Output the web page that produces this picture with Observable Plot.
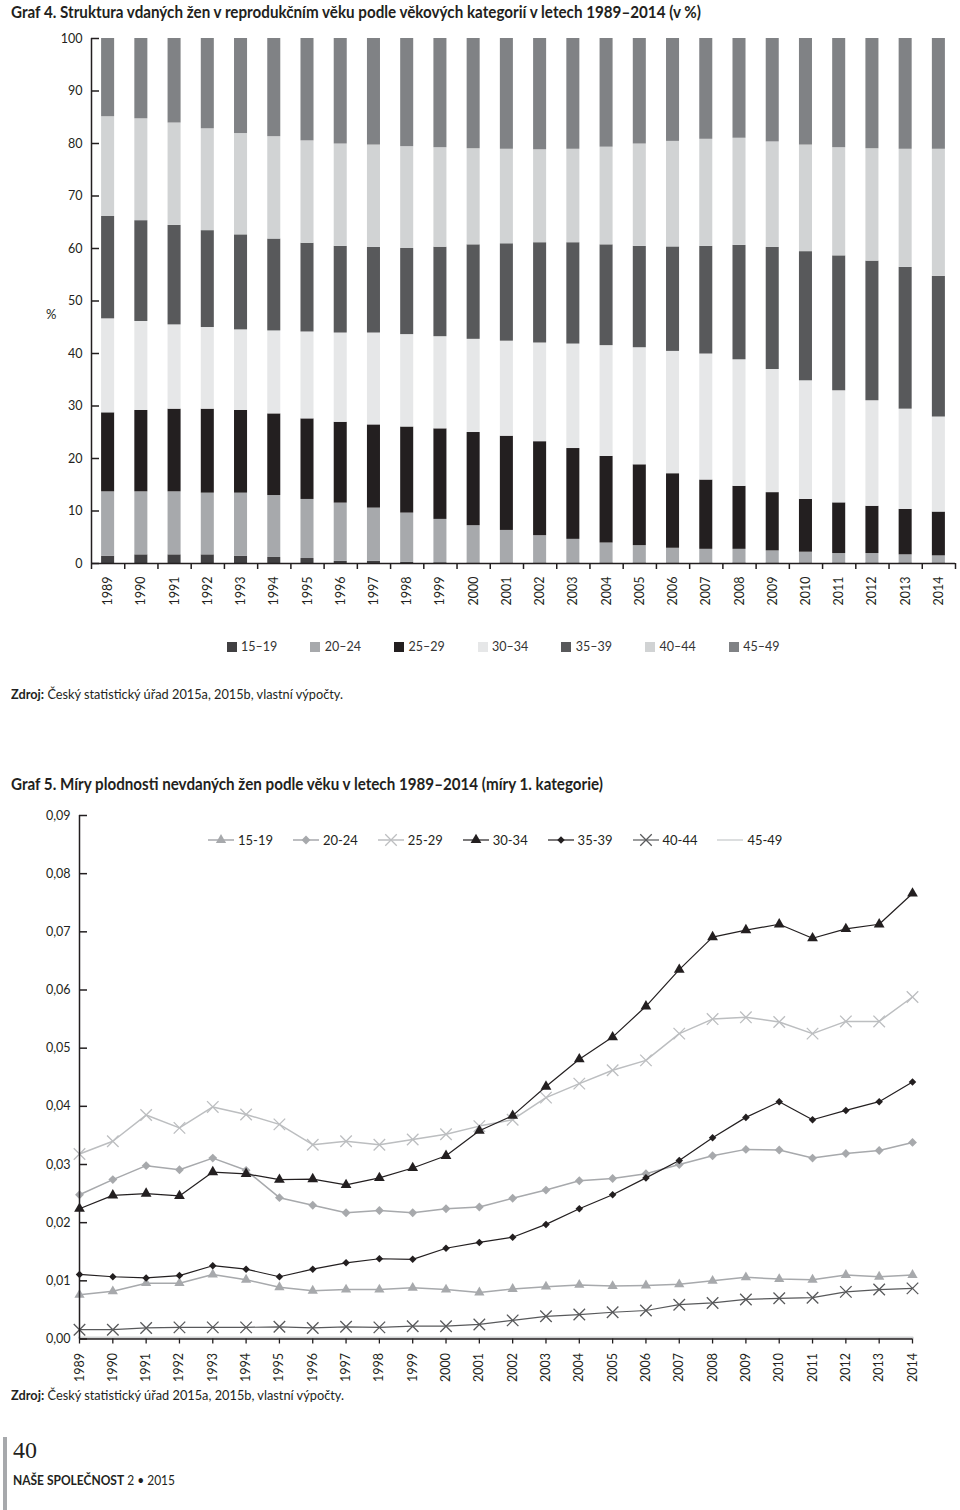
<!DOCTYPE html>
<html>
<head>
<meta charset="utf-8">
<script src="https://cdn.jsdelivr.net/npm/d3@7"></script>
<script src="https://cdn.jsdelivr.net/npm/@observablehq/plot@0.6"></script>
<style>
  html, body { margin: 0; padding: 0; background: #fff; }
  #page { position: relative; width: 960px; height: 1510px; overflow: hidden; font-family: Lato, "Open Sans", sans-serif; color: #231f20; }
  .abs { position: absolute; white-space: nowrap; }
  .fit { display: inline-block; transform-origin: left center; }
  .title { font-size: 17px; font-weight: 700; line-height: 20px; }
  .src { font-size: 13px; line-height: 16px; }
  .lg1 { font-size: 12.5px; line-height: 14px; color: #333; display: flex; align-items: center; }
  .lg1 span.sw { display: inline-block; width: 10px; height: 10.5px; margin-right: 4.5px; }
  .lg2 { font-size: 13px; line-height: 16px; display: flex; align-items: center; }
  .lg2 svg { margin-right: 4px; overflow: visible; }
</style>
</head>
<body>
<div id="page">
  <div id="chart1" class="abs" style="left:0;top:0"></div>
  <div id="chart2" class="abs" style="left:0;top:800px"></div>

  <div class="abs title" style="left:11px;top:2px"><span class="fit" data-w="690">Graf 4. Struktura vdaných žen v reprodukčním věku podle věkových kategorií v letech 1989–2014 (v %)</span></div>
  <div class="abs" style="left:46px;top:305px;font-size:13px;line-height:18px">%</div>
  <div id="legend1"></div>
  <div class="abs src" style="left:11px;top:686px"><span class="fit" data-w="332"><b>Zdroj:</b> Český statistický úřad 2015a, 2015b, vlastní výpočty.</span></div>

  <div class="abs title" style="left:11px;top:774px"><span class="fit" data-w="592">Graf 5. Míry plodnosti nevdaných žen podle věku v letech 1989–2014 (míry 1. kategorie)</span></div>
  <div id="legend2"></div>
  <div class="abs src" style="left:11px;top:1387px"><span class="fit" data-w="333"><b>Zdroj:</b> Český statistický úřad 2015a, 2015b, vlastní výpočty.</span></div>

  <div class="abs" style="left:3px;top:1437px;width:4px;height:73px;background:#a7a9ac"></div>
  <div class="abs" style="left:13px;top:1436px;font-family:'Liberation Serif','DejaVu Serif',serif;font-size:24px;line-height:28px">40</div>
  <div class="abs" style="left:13px;top:1472px;font-size:13px;line-height:16px"><span class="fit" data-w="162"><b>NAŠE SPOLEČNOST</b> 2 • 2015</span></div>
</div>

<script>
// ---------- Graf 4 data ----------
const years = [1989,1990,1991,1992,1993,1994,1995,1996,1997,1998,1999,2000,2001,2002,2003,2004,2005,2006,2007,2008,2009,2010,2011,2012,2013,2014];
const ageGroups1 = ["15–19","20–24","25–29","30–34","35–39","40–44","45–49"];
const share15_19 = [1.4,1.65,1.65,1.65,1.4,1.15,0.95,0.4,0.4,0.2,0.15,0.1,0.1,0.1,0.1,0.1,0.1,0.1,0.1,0.1,0.1,0.1,0.1,0.1,0.1,0.1];
const share20_24 = [12.25,12.0,12.0,11.75,12.0,11.8,11.25,11.1,10.15,9.4,8.25,7.1,6.2,5.2,4.5,3.8,3.3,2.8,2.6,2.6,2.3,2.05,1.8,1.8,1.55,1.35];
const share25_29 = [15.05,15.5,15.75,16.0,15.75,15.55,15.35,15.4,15.85,16.4,17.25,17.75,17.95,17.9,17.3,16.5,15.4,14.2,13.2,12.0,11.1,10.05,9.65,9.0,8.65,8.35];
const share30_34 = [17.9,16.95,16.05,15.55,15.35,15.8,16.55,17.0,17.5,17.6,17.55,17.75,18.1,18.8,19.9,21.1,22.3,23.3,24.0,24.1,23.45,22.6,21.35,20.1,19.1,18.1];
const share35_39 = [19.5,19.2,18.95,18.45,18.1,17.5,16.9,16.5,16.3,16.4,17.05,18.0,18.55,19.1,19.3,19.2,19.3,19.9,20.5,21.8,23.25,24.6,25.7,26.6,27.0,26.8];
const share40_44 = [19.0,19.4,19.5,19.4,19.3,19.5,19.5,19.5,19.5,19.4,18.95,18.3,18.0,17.7,17.8,18.6,19.5,20.1,20.4,20.4,20.1,20.3,20.6,21.4,22.5,24.2];
const share45_49 = [14.9,15.3,16.1,17.2,18.1,18.7,19.5,20.1,20.3,20.6,20.8,21.0,21.1,21.2,21.1,20.7,20.1,19.6,19.2,19.0,19.7,20.3,20.8,21.0,21.1,21.1];
const yTicks1 = [0,10,20,30,40,50,60,70,80,90,100];
const barColors = ["#414042","#a7a9ac","#231f20","#e6e7e8","#58595b","#d1d3d4","#808285"];

// ---------- Graf 5 data ----------
const ageGroups2 = ["15-19","20-24","25-29","30-34","35-39","40-44","45-49"];
const rate15_19 = [0.0076,0.0082,0.0096,0.0096,0.0111,0.0102,0.0089,0.0083,0.0085,0.0085,0.0088,0.0085,0.0080,0.0086,0.0090,0.0093,0.0091,0.0092,0.0094,0.0100,0.0106,0.0103,0.0102,0.0110,0.0107,0.0110];
const rate20_24 = [0.0248,0.0274,0.0298,0.0291,0.0311,0.0290,0.0243,0.0230,0.0217,0.0221,0.0217,0.0224,0.0227,0.0242,0.0256,0.0272,0.0276,0.0284,0.0300,0.0315,0.0326,0.0325,0.0311,0.0319,0.0324,0.0338];
const rate25_29 = [0.0318,0.0340,0.0385,0.0363,0.0399,0.0386,0.0369,0.0334,0.0340,0.0334,0.0343,0.0352,0.0366,0.0377,0.0415,0.0439,0.0462,0.0479,0.0525,0.0550,0.0553,0.0545,0.0525,0.0546,0.0546,0.0588];
const rate30_34 = [0.0224,0.0247,0.0250,0.0246,0.0287,0.0284,0.0274,0.0275,0.0265,0.0277,0.0294,0.0315,0.0358,0.0384,0.0434,0.0481,0.0519,0.0572,0.0635,0.0691,0.0703,0.0713,0.0689,0.0705,0.0713,0.0766];
const rate35_39 = [0.0111,0.0107,0.0105,0.0109,0.0126,0.0120,0.0107,0.0120,0.0131,0.0138,0.0137,0.0156,0.0166,0.0175,0.0197,0.0224,0.0248,0.0277,0.0307,0.0346,0.0381,0.0408,0.0377,0.0393,0.0408,0.0442];
const rate40_44 = [0.0016,0.0016,0.0019,0.0020,0.0020,0.0020,0.0021,0.0019,0.0021,0.0020,0.0022,0.0022,0.0025,0.0032,0.0039,0.0042,0.0046,0.0049,0.0059,0.0062,0.0068,0.0070,0.0071,0.0081,0.0085,0.0087];
const rate45_49 = [0.0002,0.0002,0.0002,0.0002,0.0002,0.0002,0.0002,0.0002,0.0002,0.0002,0.0002,0.0002,0.0002,0.0002,0.0002,0.0002,0.0002,0.0002,0.0002,0.0002,0.0002,0.0002,0.0002,0.0002,0.0002,0.0002];
const yTicks2 = [0,0.01,0.02,0.03,0.04,0.05,0.06,0.07,0.08,0.09];

// ---------- Graf 4 ----------
const shares = [share15_19, share20_24, share25_29, share30_34, share35_39, share40_44, share45_49];
const stackRows = [];
years.forEach((year, i) => {
  let acc = 0;
  ageGroups1.forEach((age, k) => {
    const v = shares[k][i];
    stackRows.push({year, age, y1: acc, y2: acc + v});
    acc += v;
  });
});
const halfBar = 0.196;
const boundaries = [years[0] - 0.5, ...years.map(y => y + 0.5)];
const font = "Lato, 'Open Sans', sans-serif";

const chart1 = Plot.plot({
  width: 960, height: 620,
  marginTop: 38, marginBottom: 57, marginLeft: 91, marginRight: 5,
  style: {background: "transparent", fontFamily: font, fontSize: "12.5px", color: "#231f20", overflow: "visible"},
  x: {domain: [boundaries[0], boundaries[boundaries.length - 1]], axis: null},
  y: {domain: [0, 100], axis: null},
  color: {domain: ageGroups1, range: barColors},
  marks: [
    Plot.rect(stackRows, {x1: d => d.year - halfBar, x2: d => d.year + halfBar, y1: "y1", y2: "y2", fill: "age"}),
    Plot.ruleX([boundaries[0]], {stroke: "#231f20", strokeWidth: 1.5}),
    Plot.ruleY([0], {stroke: "#231f20", strokeWidth: 1.5}),
    Plot.axisY({ticks: yTicks1, tickSize: -8, strokeWidth: 1.5, tickFormat: () => "", label: null}),
    Plot.axisY({ticks: yTicks1, tickSize: 0, tickPadding: 9, label: null, fontSize: 12.5}),
    Plot.axisX({ticks: boundaries, tickSize: 6, strokeWidth: 1.5, tickFormat: () => "", label: null}),
    Plot.axisX({ticks: years, tickSize: 0, tickPadding: 13, tickRotate: -90, tickFormat: d => String(d), label: null, fontSize: 12.5})
  ]
});
document.getElementById("chart1").appendChild(chart1);

// legend 1
const lg1 = document.getElementById("legend1");
ageGroups1.forEach((age, k) => {
  const el = document.createElement("div");
  el.className = "abs lg1";
  el.style.left = (226.5 + k * 83.7) + "px";
  el.style.top = "640px";
  el.innerHTML = `<span class="sw" style="background:${barColors[k]}"></span><span>${age}</span>`;
  lg1.appendChild(el);
});

// ---------- Graf 5 ----------
const rates = [rate15_19, rate20_24, rate25_29, rate30_34, rate35_39, rate40_44, rate45_49];
const seriesStyle = [
  {line: "#a7a9ac", lw: 1.5, symbol: "triangle", fill: "#a7a9ac", r: 3.8},
  {line: "#a7a9ac", lw: 1.5, symbol: "diamond2", fill: "#a7a9ac", r: 4.0},
  {line: "#bcbec0", lw: 1.5, symbol: "times", stroke: "#bcbec0", r: 5.3},
  {line: "#231f20", lw: 1.2, symbol: "triangle", fill: "#231f20", r: 4.0},
  {line: "#231f20", lw: 1.2, symbol: "diamond2", fill: "#231f20", r: 3.4},
  {line: "#58595b", lw: 1.2, symbol: "times", stroke: "#58595b", r: 5.3},
  {line: "#d1d3d4", lw: 2.5, symbol: null}
];
const lineRows = ageGroups2.map((age, k) => years.map((year, i) => ({year, age, value: rates[k][i]})));
const drawOrder = [6, 0, 1, 2, 3, 4, 5];
const seriesMarks = [];
drawOrder.forEach(k => {
  const s = seriesStyle[k];
  seriesMarks.push(Plot.line(lineRows[k], {x: "year", y: "value", stroke: s.line, strokeWidth: s.lw}));
  if (s.symbol) {
    seriesMarks.push(Plot.dot(lineRows[k], {
      x: "year", y: "value", symbol: s.symbol, r: s.r,
      fill: s.fill || "none", stroke: s.stroke || "none", strokeWidth: s.stroke ? 1.3 : 0
    }));
  }
});
const commaFmt = d => d3.format(".2f")(d).replace(".", ",");

const chart2 = Plot.plot({
  width: 960, height: 600,
  marginTop: 15, marginBottom: 61.5, marginLeft: 79, marginRight: 48,
  style: {background: "transparent", fontFamily: font, fontSize: "12.5px", color: "#231f20", overflow: "visible"},
  x: {domain: [years[0], years[years.length - 1]], axis: null},
  y: {domain: [0, 0.09], axis: null},
  symbol: {type: "identity"},
  marks: [
    ...seriesMarks,
    Plot.ruleX([years[0]], {stroke: "#231f20", strokeWidth: 1.5}),
    Plot.ruleY([0], {stroke: "#231f20", strokeWidth: 1.5}),
    Plot.axisY({ticks: yTicks2, tickSize: -8, strokeWidth: 1.5, tickFormat: () => "", label: null}),
    Plot.axisY({ticks: yTicks2, tickSize: 0, tickPadding: 9, tickFormat: commaFmt, label: null, fontSize: 12.5}),
    Plot.axisX({ticks: years, tickSize: 5, strokeWidth: 1.3, tickFormat: () => "", label: null}),
    Plot.axisX({ticks: years, tickSize: 0, tickPadding: 14, tickRotate: -90, tickFormat: d => String(d), label: null, fontSize: 12.5})
  ]
});
document.getElementById("chart2").appendChild(chart2);

// legend 2
const symbolTypes = {triangle: d3.symbolTriangle, diamond2: d3.symbolDiamond2, times: d3.symbolTimes};
const lg2 = document.getElementById("legend2");
ageGroups2.forEach((age, k) => {
  const s = seriesStyle[k];
  const el = document.createElement("div");
  el.className = "abs lg2";
  el.style.left = (208 + k * 84.9) + "px";
  el.style.top = "832px";
  let mk = "";
  if (s.symbol) {
    const p = d3.symbol(symbolTypes[s.symbol], s.r * s.r * Math.PI)();
    mk = `<path transform="translate(13,7)" d="${p}" fill="${s.fill || "none"}" stroke="${s.stroke || "none"}" stroke-width="1.3"/>`;
  }
  el.innerHTML = `<svg width="26" height="14"><line x1="0" x2="26" y1="7" y2="7" stroke="${s.line}" stroke-width="${Math.min(s.lw, 1.5)}"/>${mk}</svg><span>${age}</span>`;
  lg2.appendChild(el);
});

// fit text widths
document.querySelectorAll(".fit").forEach(el => {
  const w = +el.dataset.w;
  const r = el.getBoundingClientRect().width;
  if (r > 0) el.style.transform = `scaleX(${w / r})`;
});
</script>
</body>
</html>
